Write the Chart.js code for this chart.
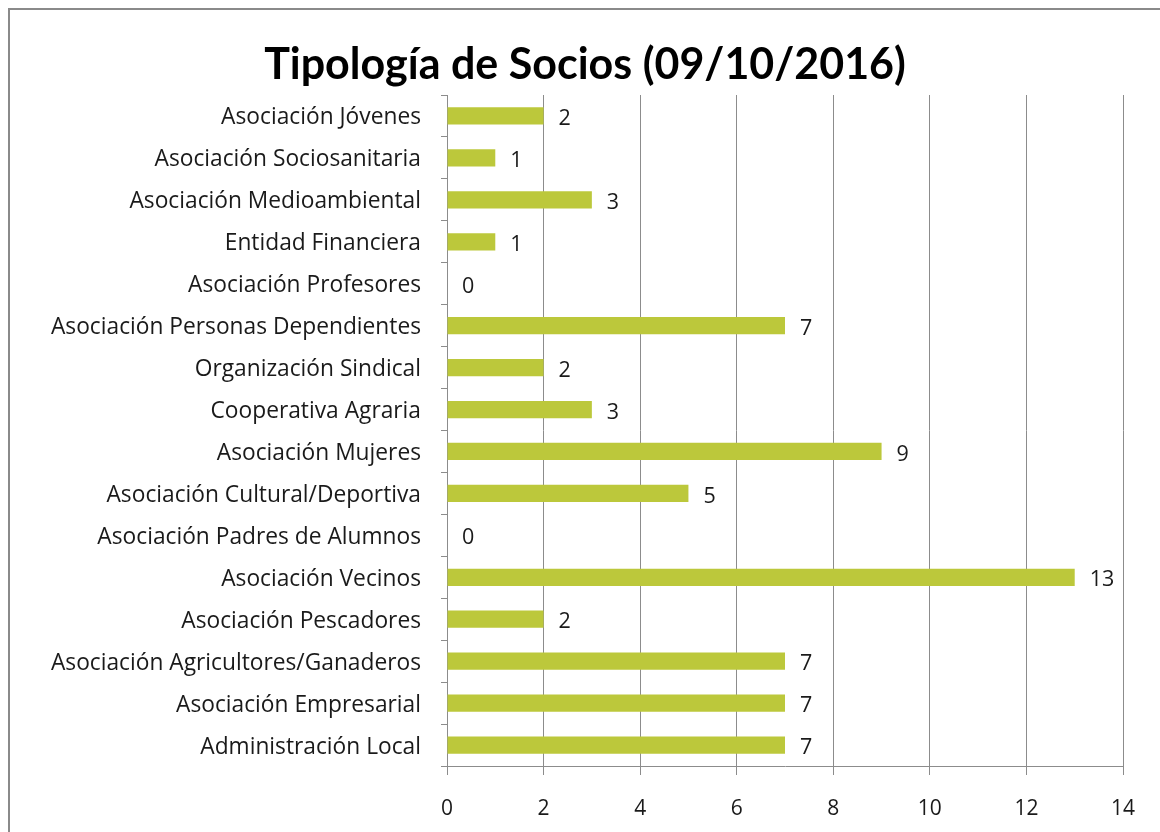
<!DOCTYPE html>
<html>
<head>
<meta charset="utf-8">
<title>Tipología de Socios</title>
<script src="https://cdn.jsdelivr.net/npm/chart.js@4/dist/chart.umd.min.js"></script>
<style>
  html, body { margin: 0; padding: 0; background: #ffffff; overflow: hidden; }
  #wrap { position: relative; width: 1160px; height: 832px; }
  #frame {
    position: absolute; left: 8px; top: 8px; width: 1300px; height: 1000px;
    border-left: 2px solid #8a8a8a; border-top: 2px solid #8a8a8a;
    pointer-events: none;
  }
  canvas { position: absolute; left: 0; top: 0; }
</style>
</head>
<body>
<div id="wrap">
  <canvas id="chart" width="1160" height="832"></canvas>
  <div id="frame"></div>
</div>
<script>
// Member categories, listed top to bottom
const categories = [
  'Asociación Jóvenes',
  'Asociación Sociosanitaria',
  'Asociación Medioambiental',
  'Entidad Financiera',
  'Asociación Profesores',
  'Asociación Personas Dependientes',
  'Organización Sindical',
  'Cooperativa Agraria',
  'Asociación Mujeres',
  'Asociación Cultural/Deportiva',
  'Asociación Padres de Alumnos',
  'Asociación Vecinos',
  'Asociación Pescadores',
  'Asociación Agricultores/Ganaderos',
  'Asociación Empresarial',
  'Administración Local'
];

// Number of members in each category
const memberCounts = [2, 1, 3, 1, 0, 7, 2, 3, 9, 5, 0, 13, 2, 7, 7, 7];

// Horizontal axis range
const axisMin = 0;
const axisMax = 14;
const axisStep = 2;

const FONT = '"Open Sans", Lato, sans-serif';
const TITLE_FONT = 'Lato, "Open Sans", sans-serif';
const TEXT_COLOR = '#1a1a1a';
const GRID_COLOR = '#8c8c8c';

// Writes each bar's value just past its end
const valueLabels = {
  id: 'valueLabels',
  afterDatasetsDraw(chart) {
    const ctx = chart.ctx;
    const meta = chart.getDatasetMeta(0);
    const data = chart.data.datasets[0].data;
    ctx.save();
    ctx.font = '21.5px ' + FONT;
    ctx.fillStyle = TEXT_COLOR;
    ctx.textAlign = 'left';
    ctx.textBaseline = 'middle';
    meta.data.forEach((bar, i) => {
      const x = chart.scales.x.getPixelForValue(data[i]);
      ctx.fillText(String(data[i]), x + 15, bar.y + 3);
    });
    ctx.restore();
  }
};

new Chart(document.getElementById('chart'), {
  type: 'bar',
  data: {
    labels: categories,
    datasets: [{
      data: memberCounts,
      backgroundColor: '#bcc83b',
      borderWidth: 0,
      barPercentage: 0.41,
      categoryPercentage: 1.0
    }]
  },
  options: {
    indexAxis: 'y',
    responsive: false,
    animation: false,
    devicePixelRatio: 1,
    layout: { padding: { left: 47, right: 37, top: 0, bottom: 0 } },
    plugins: {
      legend: { display: false },
      tooltip: { enabled: false },
      title: {
        display: true,
        text: 'Tipología de Socios (09/10/2016)',
        color: '#000000',
        font: { family: TITLE_FONT, size: 43, weight: 'bold', lineHeight: 1.2 },
        padding: { top: 39, bottom: 4.4 }
      }
    },
    scales: {
      x: {
        min: axisMin,
        max: axisMax,
        afterFit(scale) { scale.height = 66; },
        ticks: {
          stepSize: axisStep,
          color: TEXT_COLOR,
          font: { family: FONT, size: 21 },
          padding: 21
        },
        grid: {
          color: GRID_COLOR,
          lineWidth: 1,
          tickLength: 9,
          drawOnChartArea: true
        },
        border: { display: true, color: GRID_COLOR, width: 1 }
      },
      y: {
        afterFit(scale) { scale.width = 400; },
        ticks: {
          color: TEXT_COLOR,
          font: { family: FONT, size: 22.75 },
          padding: 20,
          labelOffset: 2,
          autoSkip: false
        },
        grid: {
          offset: true,
          color: GRID_COLOR,
          lineWidth: 1,
          tickLength: 6,
          drawOnChartArea: false
        },
        border: { display: true, color: GRID_COLOR, width: 1 }
      }
    }
  },
  plugins: [valueLabels]
});
</script>
</body>
</html>
